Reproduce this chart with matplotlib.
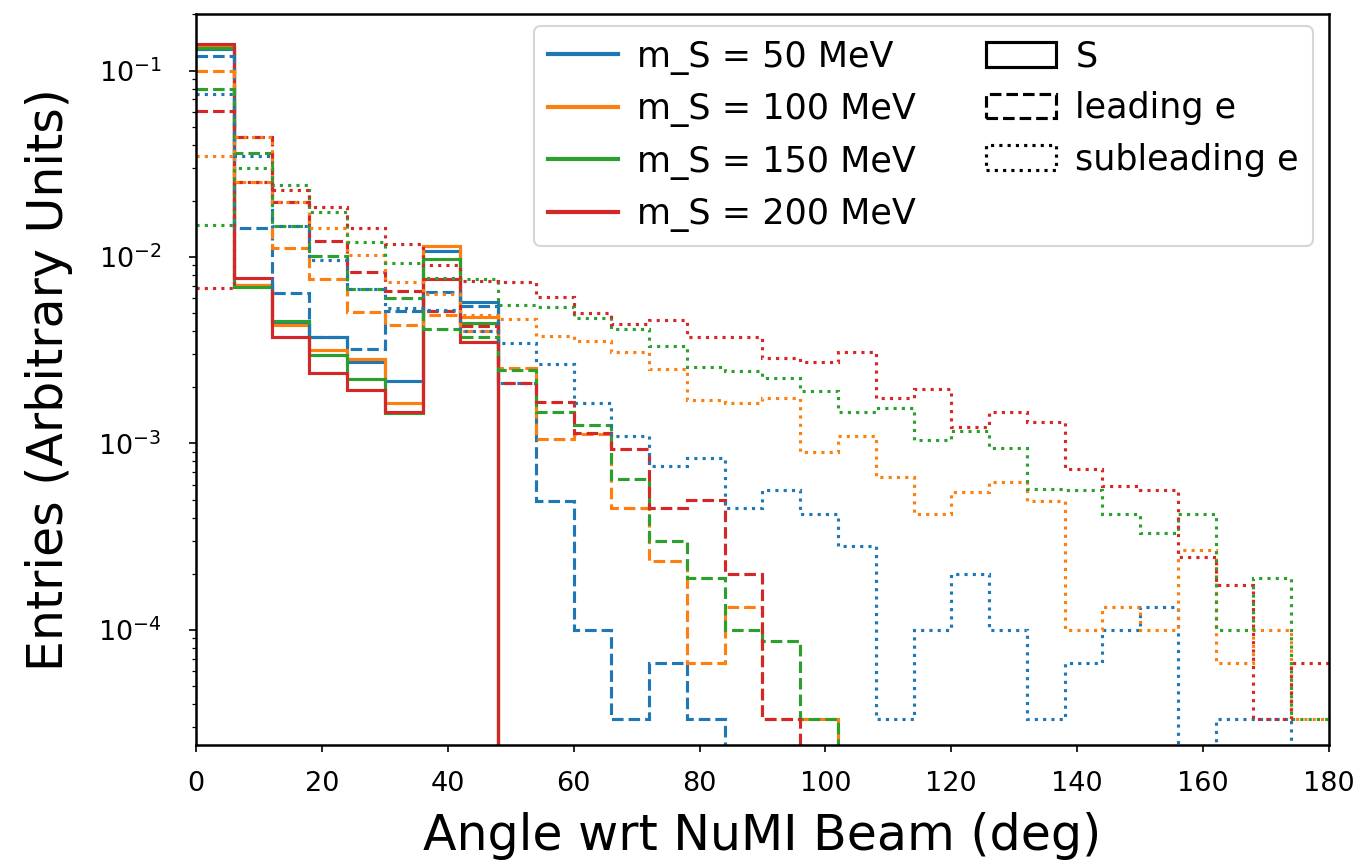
import numpy as np
import matplotlib
matplotlib.use("Agg")
import matplotlib.pyplot as plt
from matplotlib.lines import Line2D
from matplotlib.patches import Patch

# 6 degree bins, 0 - 180
edges = np.arange(0, 181, 6)

masses = ["50", "100", "150", "200"]
colors = ["C0", "C1", "C2", "C3"]

# S (only below 48 deg)
s_50 = [0.130, 0.0071, 0.0045, 0.00374, 0.00273, 0.00216, 0.0108, 0.00574] + [0] * 22
s_100 = [0.1345, 0.0071, 0.00431, 0.00315, 0.00284, 0.00165, 0.0114, 0.00475] + [0] * 22
s_150 = [0.132, 0.0069, 0.00456, 0.00298, 0.00221, 0.00146, 0.0097, 0.00442] + [0] * 22
s_200 = [0.139, 0.00775, 0.00371, 0.00238, 0.00194, 0.00148, 0.00763, 0.00348] + [0] * 22

# leading e
lead_50 = [0.119, 0.0143, 0.0064, 0.0037, 0.00322, 0.0051, 0.0065, 0.00547, 0.0021, 0.00049,
           0.0001, 3.33e-5, 6.67e-5, 3.33e-5] + [0] * 16
lead_100 = [0.0996, 0.0251, 0.0112, 0.0076, 0.00504, 0.00433, 0.00486, 0.00403, 0.00253, 0.00105,
            0.00112, 0.00045, 0.000233, 6.67e-5, 0.000133, 3.33e-5, 3.33e-5] + [0] * 13
lead_150 = [0.0794, 0.036, 0.0147, 0.0101, 0.0067, 0.00602, 0.0041, 0.00374, 0.00248, 0.00147,
            0.00126, 0.000645, 0.0003, 0.00019, 0.0001, 8.7e-5, 3.33e-5] + [0] * 13
lead_200 = [0.061, 0.0441, 0.0198, 0.0122, 0.0083, 0.0066, 0.0051, 0.00424, 0.0021, 0.00167,
            0.00114, 0.00093, 0.000453, 0.0005, 0.0002, 3.33e-5] + [0] * 14

# subleading e
sub_50 = [0.075, 0.0346, 0.0147, 0.0096, 0.0067, 0.0053, 0.0052, 0.0040, 0.00345, 0.00267,
          0.00164, 0.0011, 0.00076, 0.00083, 0.00045, 0.00056, 0.00042, 0.00028, 3.33e-5, 0.0001,
          0.0002, 0.0001, 3.33e-5, 6.67e-5, 0.0001, 0.000133, 0, 3.33e-5, 3.33e-5, 0]
sub_100 = [0.0348, 0.0441, 0.0198, 0.0143, 0.0103, 0.0073, 0.0063, 0.0049, 0.00464, 0.00378,
           0.00352, 0.00311, 0.00251, 0.00171, 0.00164, 0.00176, 0.0009, 0.0011, 0.00066, 0.00042,
           0.00055, 0.00062, 0.00049, 0.0001, 0.000133, 0.0001, 0.000267, 6.67e-5, 0.0001, 3.33e-5]
sub_150 = [0.0149, 0.030, 0.0244, 0.0175, 0.0121, 0.0093, 0.0077, 0.0076, 0.0055, 0.0054,
           0.0047, 0.0041, 0.00335, 0.00256, 0.00245, 0.00225, 0.0019, 0.00147, 0.00155, 0.00104,
           0.00116, 0.00095, 0.00057, 0.00056, 0.00042, 0.00033, 0.00042, 0.0001, 0.00019, 3.33e-5]
sub_200 = [0.0068, 0.0251, 0.0229, 0.0186, 0.0143, 0.0117, 0.0090, 0.0074, 0.0073, 0.0061,
           0.0050, 0.00437, 0.00458, 0.0037, 0.0037, 0.00287, 0.00272, 0.00309, 0.00176, 0.00195,
           0.00122, 0.00148, 0.00131, 0.00073, 0.00059, 0.00056, 0.000245, 0.000175, 3.33e-5, 6.67e-5]

groups = [
    ("S", "-", [s_50, s_100, s_150, s_200]),
    ("leading e", "--", [lead_50, lead_100, lead_150, lead_200]),
    ("subleading e", ":", [sub_50, sub_100, sub_150, sub_200]),
]

fig = plt.figure(figsize=(1364 / 150, 865 / 150), dpi=150)
ax = fig.add_axes([0.1437, 0.1387, 0.8306, 0.8451])

for name, ls, hists in groups:
    for vals, c in zip(hists, colors):
        ax.stairs(vals, edges, color=c, linestyle=ls, linewidth=1.5, baseline=None)

ax.set_yscale("log")
ax.set_xlim(0, 180)
ax.set_ylim(2.41e-5, 0.201)
ax.tick_params(labelsize=13)
ax.tick_params(axis="x", pad=9)
ax.tick_params(axis="y", pad=13)
for s in ax.spines.values():
    s.set_linewidth(1.2)
ax.set_xlabel("Angle wrt NuMI Beam (deg)", fontsize=23.5, labelpad=7)
ax.set_ylabel("Entries (Arbitrary Units)", fontsize=23.5, labelpad=12)

handles = [Line2D([], [], color=c, lw=2) for c in colors]
labels = ["m_S = %s MeV" % m for m in masses]
for name, ls, _ in groups:
    handles.append(Patch(fill=False, edgecolor="black", linestyle=ls, linewidth=1.5))
    labels.append(name)
ax.legend(handles, labels, ncol=2, loc="upper right", fontsize=16.8,
          bbox_to_anchor=(0.986, 0.984), borderaxespad=0, handletextpad=0.55)

fig.savefig("out.png", dpi=150)
